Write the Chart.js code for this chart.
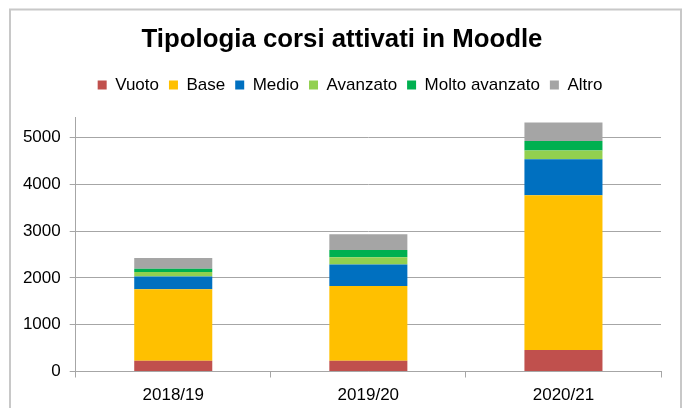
<!DOCTYPE html>
<html>
<head>
<meta charset="utf-8">
<script src="https://cdn.jsdelivr.net/npm/chart.js@4/dist/chart.umd.min.js"></script>
<style>
  html, body { margin: 0; padding: 0; background: #fff; }
  #wrap { width: 683px; height: 408px; }
</style>
</head>
<body>
<div id="wrap"><canvas id="chart"></canvas></div>
<script>
// Data
const years = ['2018/19', '2019/20', '2020/21'];
const vuoto = [230, 230, 460];
const base = [1530, 1600, 3310];
const medio = [270, 455, 770];
const avanzato = [95, 160, 185];
const moltoAvanzato = [70, 155, 200];
const altro = [230, 335, 400];
const yTicks = [0, 1000, 2000, 3000, 4000, 5000];

const FONT = "'Liberation Sans', Arial, sans-serif";

// white page + light grey frame around the chart
const frame = {
    id: 'frame',
    beforeDraw(chart) {
        const ctx = chart.ctx;
        ctx.save();
        ctx.fillStyle = '#fff';
        ctx.fillRect(0, 0, chart.width, chart.height);
        ctx.strokeStyle = '#c8c8c8';
        ctx.lineWidth = 2;
        ctx.strokeRect(10, 9.5, 671, 420);
        ctx.restore();
    }
};

// legend sits a little right of the canvas centre in the original
const legendShift = {
    id: 'legendShift',
    afterLayout(chart) {
        chart.legend.left += 8;
        chart.legend.right += 8;
    }
};

function ds(label, data, color) {
    return {
        label: label,
        data: data,
        backgroundColor: color,
        borderWidth: 0,
        categoryPercentage: 1,
        barPercentage: 0.4
    };
}

new Chart(document.getElementById('chart'), {
    type: 'bar',
    data: {
        labels: years,
        datasets: [
            ds('Vuoto', vuoto, '#c0504d'),
            ds('Base', base, '#ffc000'),
            ds('Medio', medio, '#0070c0'),
            ds('Avanzato', avanzato, '#92d050'),
            ds('Molto avanzato', moltoAvanzato, '#00b050'),
            ds('Altro', altro, '#a5a5a5')
        ]
    },
    options: {
        responsive: true,
        maintainAspectRatio: false,
        animation: false,
        layout: { padding: { top: 24, left: 23, right: 22, bottom: 0 } },
        plugins: {
            title: {
                display: true,
                text: 'Tipologia corsi attivati in Moodle',
                color: '#000',
                font: { family: FONT, size: 25.8, weight: 'bold', lineHeight: 1.2 },
                padding: { top: 0, bottom: 11.5 }
            },
            // empty spacer between legend and plot area
            subtitle: {
                display: true,
                text: '',
                weight: 500,
                font: { size: 1, lineHeight: 1 },
                padding: { top: 13.5, bottom: 0 }
            },
            legend: {
                position: 'top',
                labels: {
                    color: '#000',
                    font: { family: FONT, size: 17 },
                    boxWidth: 9,
                    boxHeight: 9,
                    padding: 10
                }
            },
            tooltip: { enabled: false }
        },
        scales: {
            x: {
                stacked: true,
                offset: true,
                grid: {
                    offset: true,
                    drawOnChartArea: false,
                    drawTicks: true,
                    tickLength: 6,
                    color: '#a6a6a6'
                },
                border: { color: '#a6a6a6' },
                afterFit(scale) {
                    scale.height = 36.5;
                },
                ticks: {
                    color: '#000',
                    font: { family: FONT, size: 17 },
                    padding: 7.5
                }
            },
            y: {
                stacked: true,
                min: 0,
                max: 5420,
                grid: {
                    color: '#a6a6a6',
                    tickLength: 6
                },
                border: { color: '#a6a6a6' },
                afterBuildTicks(scale) {
                    scale.ticks = yTicks.map(v => ({ value: v }));
                },
                afterFit(scale) {
                    scale.width = 52.7;
                },
                ticks: {
                    color: '#000',
                    font: { family: FONT, size: 17 },
                    padding: 9,
                    callback: v => String(v)
                }
            }
        }
    },
    plugins: [frame, legendShift]
});
</script>
</body>
</html>
